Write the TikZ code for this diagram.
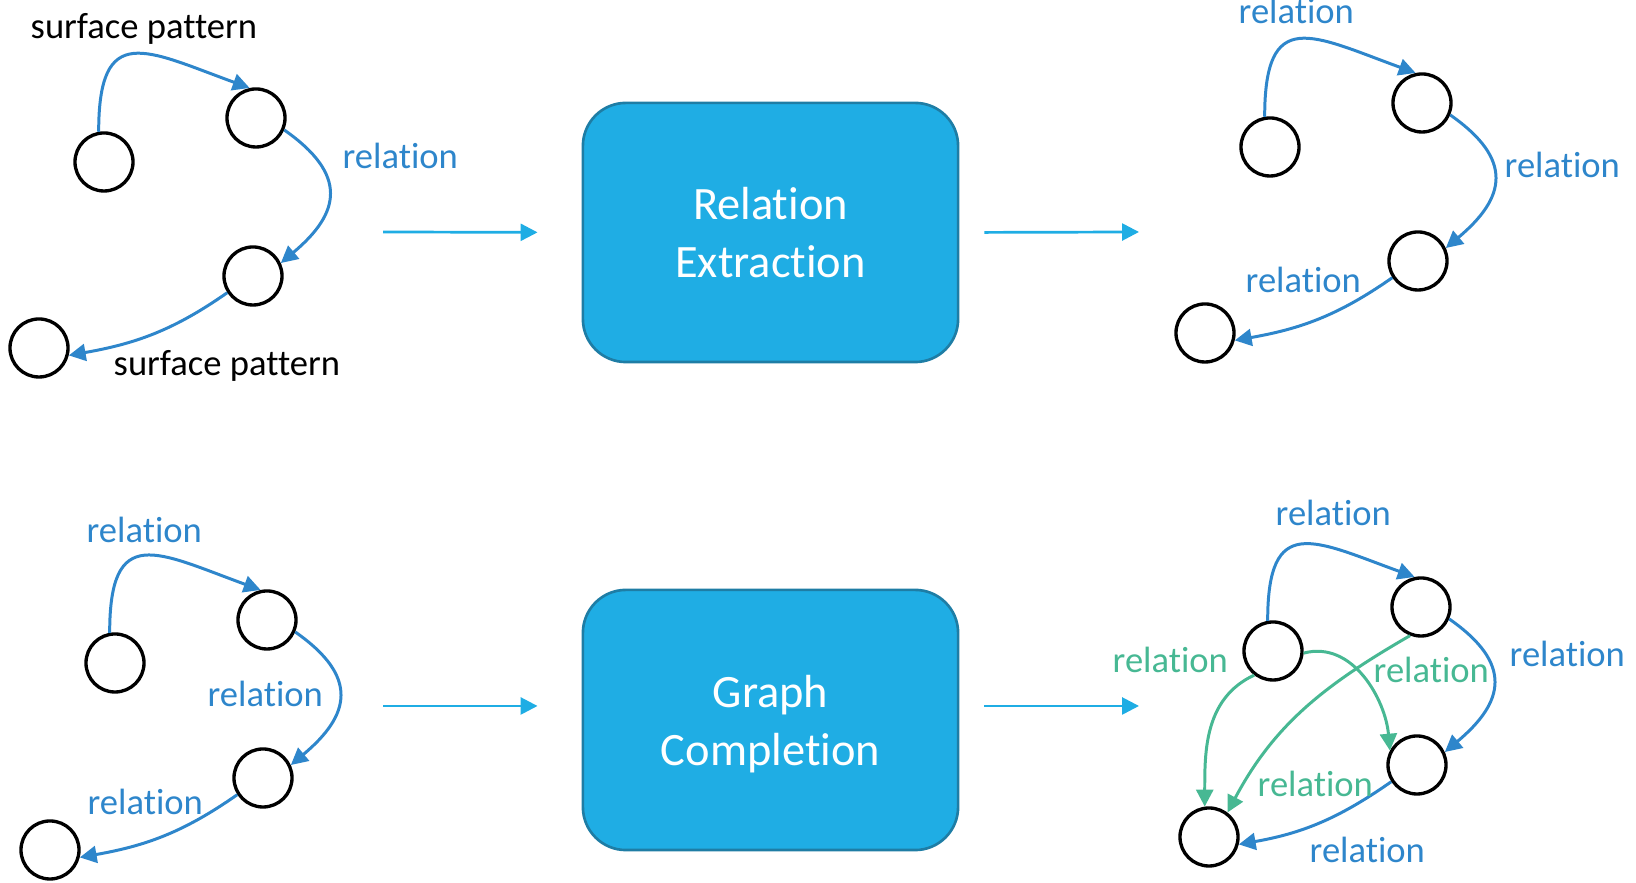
\documentclass[tikz,border=0pt]{standalone}
\usepackage{fontspec}
\setmainfont{Carlito}[RawFeature={-liga;-clig;-calt;-dlig}]
\usepackage{xcolor}
\usetikzlibrary{arrows.meta}
\definecolor{boxblue}{RGB}{31,173,228}
\definecolor{boxedge}{RGB}{30,125,165}
\definecolor{relblue}{RGB}{46,134,203}
\definecolor{relgreen}{RGB}{71,184,147}

\begin{document}
\begin{tikzpicture}[x=0.01cm, y=0.01cm,
    ent/.style={circle, draw, line width=0.95pt, minimum size=0.58cm, inner sep=0pt},
    rel/.style={relblue, line width=0.85pt, -{Triangle[length=4.8pt,width=4.8pt]}},
    relg/.style={rel, relgreen},
    lbl/.style={anchor=base west, inner sep=0pt, font=\fontsize{10.4}{12}\selectfont},
    task/.style={draw=boxedge, fill=boxblue, line width=0.75pt, rounded corners=0.43cm,
        minimum width=3.75cm, minimum height=2.59cm, text=white, align=center,
        text depth=0pt, font=\fontsize{13.2}{16.5}\selectfont},
    flow/.style={boxblue, line width=0.77pt, -{Triangle[length=4.8pt,width=4.8pt]}}]
    \useasboundingbox (0,0) rectangle (1636,883);

    % input graph with surface patterns
    \node[ent] (a1) at (104,721) {};
    \node[ent] (b1) at (256,765) {};
    \node[ent] (c1) at (253,607) {};
    \node[ent] (d1) at (39,535) {};
    \draw[rel] (a1.100) to[out=90, in=160, looseness=1.8] (b1.102);
    \draw[rel] (b1.-23) to[out=-35, in=40, looseness=1.5] (c1.25);
    \draw[rel] (c1.213) to[out=215, in=10] (d1.-14);
    \node[lbl] (sp1) at (30,844) {surface pattern};
    \node[lbl, relblue] (r1) at (342,714) {relation};
    \node[lbl] (sp2) at (113,507) {surface pattern};

    % relation extraction
    \node[task] (re) at (770.5,650.5) {Relation\\Extraction};
    \coordinate (re-in) at (383,651);
    \coordinate (re-out) at (1139,651);
    \draw[flow, shorten >=0.44cm] (re-in) -- (re.west);
    \draw[flow, shorten <=0.25cm] (re.east) -- (re-out);

    % extracted graph
    \node[ent] (a2) at (1270,736) {};
    \node[ent] (b2) at (1422,780) {};
    \node[ent] (c2) at (1418,622) {};
    \node[ent] (d2) at (1205,550) {};
    \draw[rel] (a2.100) to[out=90, in=160, looseness=1.8] (b2.102);
    \draw[rel] (b2.-23) to[out=-35, in=40, looseness=1.5] (c2.25);
    \draw[rel] (c2.213) to[out=215, in=10] (d2.-14);
    \node[lbl, relblue] (r2) at (1238,859) {relation};
    \node[lbl, relblue] (r3) at (1504,705) {relation};
    \node[lbl, relblue] (r4) at (1245,590) {relation};

    % incomplete graph
    \node[ent] (a3) at (115,220) {};
    \node[ent] (b3) at (267,263) {};
    \node[ent] (c3) at (263,105) {};
    \node[ent] (d3) at (50,33) {};
    \draw[rel] (a3.100) to[out=90, in=160, looseness=1.8] (b3.102);
    \draw[rel] (b3.-23) to[out=-35, in=40, looseness=1.5] (c3.25);
    \draw[rel] (c3.213) to[out=215, in=10] (d3.-14);
    \node[lbl, relblue] (r5) at (86,340) {relation};
    \node[lbl, relblue] (r6) at (207,176) {relation};
    \node[lbl, relblue] (r7) at (87,68) {relation};

    % graph completion
    \node[task, minimum height=2.6cm] (gc) at (770.5,163) {Graph\\Completion};
    \coordinate (gc-in) at (383,177);
    \coordinate (gc-out) at (1139,177);
    \draw[flow, shorten >=0.44cm] (gc-in) -- (gc-in -| gc.west);
    \draw[flow, shorten <=0.25cm] (gc-in -| gc.east) -- (gc-out);

    % completed graph
    \node[ent] (a4) at (1273,232) {};
    \node[ent] (b4) at (1421,276) {};
    \node[ent] (c4) at (1417,118) {};
    \node[ent] (d4) at (1209,46) {};
    \draw[rel] (a4.100) to[out=90, in=160, looseness=1.8] (b4.102);
    \draw[rel] (b4.-23) to[out=-35, in=40, looseness=1.5] (c4.25);
    \draw[rel] (c4.213) to[out=215, in=10] (d4.-14);
    \draw[relg] (a4.232) to[out=205, in=90] (d4.98);
    \draw[relg] (a4.-4) to[out=15, in=95] (c4.152);
    \draw[relg] (b4.249) to[out=210, in=62] (d4.53);
    \node[lbl, relblue] (r8) at (1275,357) {relation};
    \node[lbl, relblue] (r9) at (1509,216) {relation};
    \node[lbl, relblue] (r10) at (1309,20) {relation};
    \node[lbl, relgreen] (g1) at (1112,210) {relation};
    \node[lbl, relgreen] (g2) at (1373,200) {relation};
    \node[lbl, relgreen] (g3) at (1257,86) {relation};
\end{tikzpicture}
\end{document}
